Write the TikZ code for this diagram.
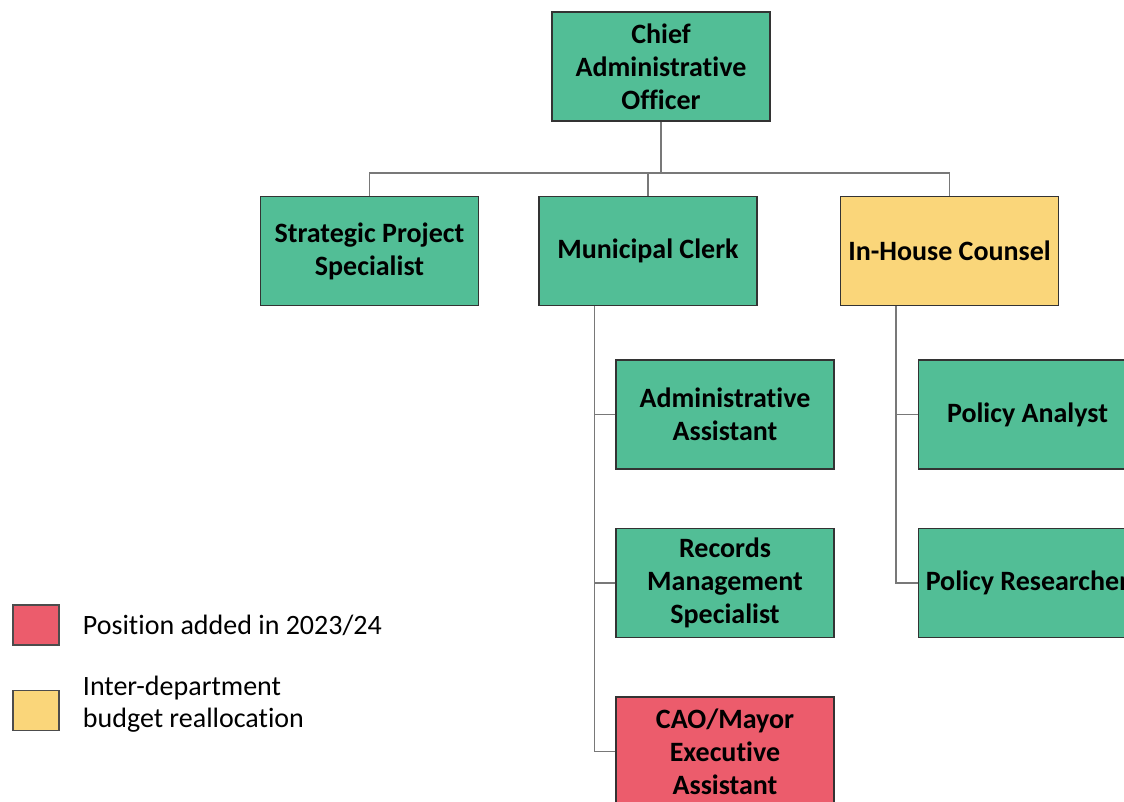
\documentclass[tikz,border=0pt]{standalone}
\usepackage{fontspec}
\setmainfont{Carlito}[Ligatures=NoCommon]
\usetikzlibrary{positioning}
\definecolor{postgreen}{RGB}{82,190,150}
\definecolor{postred}{RGB}{236,92,108}
\definecolor{postyellow}{RGB}{250,214,122}
\definecolor{linegray}{RGB}{120,120,120}
\tikzset{
    %Define style for position boxes
    post/.style={
           rectangle,
           draw=black!80, line width=1.5pt,
           fill=postgreen,
           minimum width=218pt,
           minimum height=109pt,
           font=\fontsize{28}{33}\selectfont\bfseries,
           align=center},
    newpost/.style={post, fill=postred},
    movedpost/.style={post, fill=postyellow},
    %Define style for the legend
    keybox/.style={
           rectangle,
           draw=black!70, line width=1.5pt,
           minimum width=46pt,
           minimum height=40pt},
    keytext/.style={
           inner sep=0pt,
           font=\fontsize{28}{32}\selectfont,
           align=left},
    % Define connector style
    link/.style={draw=linegray, line width=1.5pt}
}
\begin{document}
\begin{tikzpicture}[node distance=58pt]
\useasboundingbox (0,0) rectangle (1124pt,-801pt);
\clip (0,0) rectangle (1124pt,-801pt);
 %nodes
\node[post] (clerk) at (648pt,-251pt) {Municipal Clerk};
\node[post, left=59pt of clerk] (sps) {Strategic Project\\Specialist};
\node[movedpost, right=82pt of clerk] (counsel) {In-House Counsel};
\node[post, above=74pt of clerk, xshift=13pt] (cao) {Chief\\Administrative\\Officer};

\node[post, below=53pt of clerk.south west, anchor=north west, xshift=77pt] (aa) {Administrative\\Assistant};
\node[post, below=of aa] (rms) {Records\\Management\\Specialist};
\node[newpost, below=of rms] (exec) {CAO/Mayor\\Executive\\Assistant};

\node[post, below=53pt of counsel.south west, anchor=north west, xshift=78pt] (pa) {Policy Analyst};
\node[post, below=of pa] (pr) {Policy Researcher};

 %connectors
\path (cao.south) ++(0,-51pt) coordinate (bus);
\draw[link] (cao.south) -- (bus);
\draw[link] (sps.north) |- (bus) -| (counsel.north);
\draw[link] (clerk.north) -- (clerk.north |- bus);

\draw[link] ([xshift=56pt]clerk.south west) coordinate (ct) |- (exec.west);
\draw[link] (aa.west) -- (aa.west -| ct);
\draw[link] (rms.west) -- (rms.west -| ct);

\draw[link] ([xshift=56pt]counsel.south west) coordinate (lt) |- (pr.west);
\draw[link] (pa.west) -- (pa.west -| lt);

 %legend
\node[keybox, fill=postred] (keynew) at (36pt,-625pt) {};
\node[keytext, right=23pt of keynew] (keynewtext) {Position added in 2023/24};
\node[keybox, fill=postyellow, below=44pt of keynew] (keymoved) {};
\node[keytext, right=23pt of keymoved, yshift=6pt] (keymovedtext) {Inter-department\\budget reallocation};
\end{tikzpicture}
\end{document}
